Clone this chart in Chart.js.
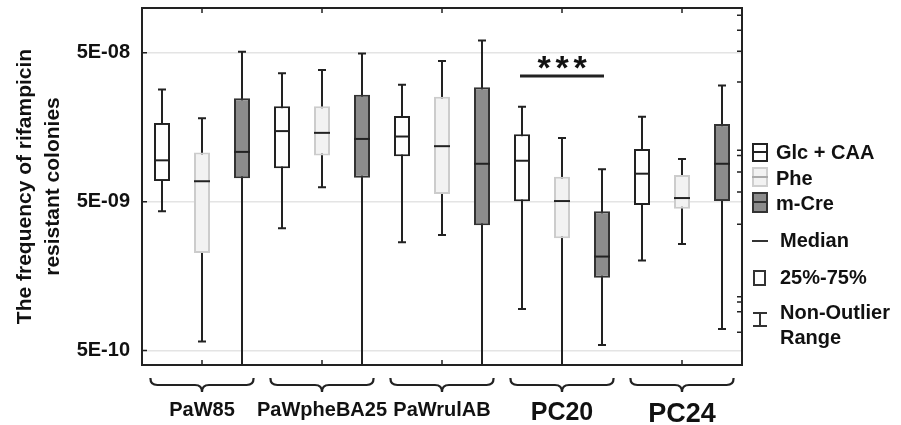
<!DOCTYPE html>
<html>
<head>
<meta charset="utf-8">
<script src="https://cdn.jsdelivr.net/npm/chart.js@4.4.1/dist/chart.umd.min.js"></script>
<style>
  html, body { margin: 0; padding: 0; background: #fff; }
  #wrap { position: relative; width: 901px; height: 425px; overflow: hidden; }
  #chart { position: absolute; left: 0; top: 0; }
  .lg { position: absolute; font: bold 20px "Liberation Sans", Arial, sans-serif; color: #111; line-height: 20px; white-space: nowrap; }
  .ic { position: absolute; box-sizing: border-box; }
</style>
</head>
<body>
<div id="wrap">
  <canvas id="chart" width="901" height="425"></canvas>

  <!-- legend -->
  <div class="ic" style="left:752px;top:143px;width:16px;height:19px;border:2px solid #222;background:#fff"></div>
  <div class="ic" style="left:752px;top:151px;width:16px;height:2px;background:#222"></div>
  <div class="lg" style="left:776px;top:142px">Glc + CAA</div>

  <div class="ic" style="left:752px;top:167px;width:16px;height:20px;border:2px solid #cfcfcf;background:#f2f2f2"></div>
  <div class="ic" style="left:752px;top:176px;width:16px;height:2px;background:#aaa"></div>
  <div class="lg" style="left:776px;top:168px">Phe</div>

  <div class="ic" style="left:752px;top:192px;width:16px;height:21px;border:2px solid #333;background:#8c8c8c"></div>
  <div class="ic" style="left:752px;top:201px;width:16px;height:2px;background:#333"></div>
  <div class="lg" style="left:776px;top:193px">m-Cre</div>

  <div class="ic" style="left:752px;top:240px;width:16px;height:2px;background:#333"></div>
  <div class="lg" style="left:780px;top:230px">Median</div>

  <div class="ic" style="left:753px;top:270px;width:13px;height:16px;border:2px solid #333;background:#fff"></div>
  <div class="lg" style="left:780px;top:267px">25%-75%</div>

  <div class="ic" style="left:753px;top:312px;width:14px;height:2px;background:#333"></div>
  <div class="ic" style="left:759px;top:312px;width:2px;height:15px;background:#333"></div>
  <div class="ic" style="left:753px;top:325px;width:14px;height:2px;background:#333"></div>
  <div class="lg" style="left:780px;top:302px">Non-Outlier</div>
  <div class="lg" style="left:780px;top:327px">Range</div>
</div>

<script>
// strains (groups) and media (series)
const groups = ["PaW85", "PaWpheBA25", "PaWrulAB", "PC20", "PC24"];
const media = ["Glc + CAA", "Phe", "m-Cre"];

// box plot statistics, one value per strain
const glcMin = [4.31e-9, 3.32e-9, 2.67e-9, 9.5e-10, 2.01e-9];
const glcQ1  = [6.88e-9, 8.38e-9, 1.01e-8, 5.03e-9, 4.75e-9];
const glcMed = [9.48e-9, 1.49e-8, 1.37e-8, 9.42e-9, 7.71e-9];
const glcQ3  = [1.69e-8, 2.19e-8, 1.88e-8, 1.42e-8, 1.13e-8];
const glcMax = [2.84e-8, 3.64e-8, 3.05e-8, 2.17e-8, 1.86e-8];

const pheMin = [5.75e-10, 6.24e-9, 2.99e-9, 3.0e-10, 2.60e-9];
const pheQ1  = [2.26e-9, 1.02e-8, 5.63e-9, 2.84e-9, 4.49e-9];
const pheMed = [6.86e-9, 1.45e-8, 1.18e-8, 5.05e-9, 5.29e-9];
const pheQ3  = [1.07e-8, 2.19e-8, 2.53e-8, 7.36e-9, 7.55e-9];
const pheMax = [1.82e-8, 3.83e-8, 4.40e-8, 1.34e-8, 9.67e-9];

const creMin = [3.0e-10, 3.0e-10, 3.0e-10, 5.46e-10, 6.99e-10];
const creQ1  = [7.18e-9, 7.25e-9, 3.47e-9, 1.54e-9, 5.05e-9];
const creMed = [1.08e-8, 1.32e-8, 8.99e-9, 2.14e-9, 8.99e-9];
const creQ3  = [2.48e-8, 2.61e-8, 2.93e-8, 4.31e-9, 1.66e-8];
const creMax = [5.08e-8, 4.95e-8, 6.06e-8, 8.25e-9, 3.02e-8];

// axis ticks
const yTicks = [5e-10, 5e-9, 5e-8];
const rightTicks = [8.95e-8, 7.09e-8, 5.13e-8, 3.18e-8, 1.11e-8, 1.02e-8, 7.9e-9,
                    5.81e-9, 3.53e-9, 1.15e-9, 1.06e-9, 9.1e-10, 6.65e-10];
const yTitle = ["The frequency of rifampicin", "resistant colonies"];

// significance mark over PC20
const sigGroup = 3;
const sigLevel = 3.5e-8;
const sigText = "***";

const FONT = '"Liberation Sans", Arial, sans-serif';
const INK = "#222";
const fills = ["#ffffff", "#f2f2f2", "#8c8c8c"];
const edges = ["#222222", "#cccccc", "#333333"];
const labelSizes = [20, 20, 20, 25, 27];

const stats = [
  { min: glcMin, q1: glcQ1, med: glcMed, q3: glcQ3, max: glcMax },
  { min: pheMin, q1: pheQ1, med: pheMed, q3: pheQ3, max: pheMax },
  { min: creMin, q1: creQ1, med: creMed, q3: creQ3, max: creMax },
];

function fmtExp(v) {
  const [m, e] = v.toExponential(0).split("e");
  const n = parseInt(e, 10);
  return m + "E" + (n < 0 ? "-" : "+") + String(Math.abs(n)).padStart(2, "0");
}

// no extra label padding, so the plot area sits where the layout says
function noPad(s) {
  s.paddingTop = 0;
  s.paddingBottom = 0;
  s.paddingLeft = 0;
  s.paddingRight = 0;
}

// whiskers behind the boxes, medians, ticks, frame, braces and stars on top
const boxPlotExtras = {
  id: "boxPlotExtras",
  beforeDatasetsDraw(chart) {
    const { ctx, chartArea: a, scales: { y } } = chart;
    ctx.save();
    ctx.beginPath();
    ctx.rect(a.left, a.top, a.right - a.left, a.bottom - a.top);
    ctx.clip();
    ctx.strokeStyle = INK;
    ctx.lineWidth = 2;
    stats.forEach((s, di) => {
      chart.getDatasetMeta(di).data.forEach((bar, i) => {
        const x = Math.round(bar.x);
        const top = y.getPixelForValue(s.max[i]);
        const bot = y.getPixelForValue(s.min[i]);
        ctx.beginPath();
        ctx.moveTo(x, top);
        ctx.lineTo(x, bot);
        ctx.moveTo(x - 4, top);
        ctx.lineTo(x + 4, top);
        ctx.moveTo(x - 4, bot);
        ctx.lineTo(x + 4, bot);
        ctx.stroke();
      });
    });
    ctx.restore();
  },
  afterDatasetsDraw(chart) {
    const { ctx, chartArea: a, scales: { x, y, y2 } } = chart;
    ctx.save();
    ctx.strokeStyle = INK;

    // medians
    ctx.lineWidth = 2;
    stats.forEach((s, di) => {
      chart.getDatasetMeta(di).data.forEach((bar, i) => {
        const py = y.getPixelForValue(s.med[i]);
        ctx.beginPath();
        ctx.moveTo(bar.x - bar.width / 2, py);
        ctx.lineTo(bar.x + bar.width / 2, py);
        ctx.stroke();
      });
    });

    // inward tick marks
    ctx.lineWidth = 1.5;
    ctx.beginPath();
    yTicks.forEach(v => {
      const py = y.getPixelForValue(v);
      ctx.moveTo(a.left, py);
      ctx.lineTo(a.left + 5, py);
    });
    rightTicks.forEach(v => {
      const py = y2.getPixelForValue(v);
      ctx.moveTo(a.right, py);
      ctx.lineTo(a.right - 5, py);
    });
    groups.forEach((g, i) => {
      const px = x.getPixelForTick(i);
      ctx.moveTo(px, a.top);
      ctx.lineTo(px, a.top + 5);
      ctx.moveTo(px, a.bottom);
      ctx.lineTo(px, a.bottom - 5);
    });
    ctx.stroke();

    // frame
    ctx.lineWidth = 2;
    ctx.strokeRect(a.left, a.top, a.right - a.left, a.bottom - a.top);

    // braces under each strain
    const step = x.getPixelForTick(1) - x.getPixelForTick(0);
    const half = step * 0.43;
    const by = a.bottom + 13, r = 7;
    ctx.lineWidth = 2.2;
    groups.forEach((g, i) => {
      const xc = x.getPixelForTick(i), x0 = xc - half, x1 = xc + half;
      ctx.beginPath();
      ctx.moveTo(x0, by);
      ctx.quadraticCurveTo(x0, by + r, x0 + r, by + r);
      ctx.lineTo(xc - r, by + r);
      ctx.quadraticCurveTo(xc, by + r, xc, by + 2 * r);
      ctx.quadraticCurveTo(xc, by + r, xc + r, by + r);
      ctx.lineTo(x1 - r, by + r);
      ctx.quadraticCurveTo(x1, by + r, x1, by);
      ctx.stroke();
    });

    // significance bar and stars
    const sx = x.getPixelForTick(sigGroup);
    const sy = y.getPixelForValue(sigLevel);
    ctx.lineWidth = 3;
    ctx.beginPath();
    ctx.moveTo(sx - 42, sy);
    ctx.lineTo(sx + 42, sy);
    ctx.stroke();
    ctx.fillStyle = "#111";
    ctx.font = "bold 34px " + FONT;
    ctx.textAlign = "center";
    ctx.textBaseline = "alphabetic";
    [...sigText].forEach((c, k) => ctx.fillText(c, sx + (k - 1) * 18, sy + 3));
    ctx.restore();
  }
};

new Chart(document.getElementById("chart"), {
  type: "bar",
  data: {
    labels: groups,
    datasets: stats.map((s, di) => ({
      label: media[di],
      data: s.q1.map((q, i) => [q, s.q3[i]]),
      backgroundColor: fills[di],
      borderColor: edges[di],
      borderWidth: 2,
      borderSkipped: false,
      barPercentage: 0.4,
      categoryPercentage: 1.0,
    })),
  },
  options: {
    responsive: false,
    devicePixelRatio: 1,
    animation: false,
    events: [],
    layout: { padding: { top: 8, left: 0, right: 0, bottom: 0 } },
    plugins: { legend: { display: false }, tooltip: { enabled: false } },
    scales: {
      x: {
        offset: true,
        grid: { display: false, drawTicks: false },
        border: { display: false },
        ticks: {
          autoSkip: false,
          maxRotation: 0,
          padding: 33,
          color: "#111",
          font: ctx => ({ family: FONT, weight: "bold", size: labelSizes[ctx.index] || 20 }),
        },
        afterFit: s => { s.height = 60; noPad(s); },
      },
      y: {
        type: "logarithmic",
        min: 4e-10,
        max: 1e-7,
        afterBuildTicks: s => { s.ticks = yTicks.map(v => ({ value: v })); },
        ticks: {
          padding: 12,
          color: "#111",
          font: { family: FONT, weight: "bold", size: 20 },
          callback: v => fmtExp(v),
        },
        grid: { color: "#e4e4e4", lineWidth: 1.5, drawTicks: false },
        border: { display: false },
        title: {
          display: true,
          text: yTitle,
          color: "#111",
          font: { family: FONT, weight: "bold", size: 21, lineHeight: 1.3 },
          padding: { top: 12, bottom: 0 },
        },
        afterFit: s => { s.width = 142; noPad(s); },
      },
      y2: {
        type: "logarithmic",
        position: "right",
        min: 4e-10,
        max: 1e-7,
        afterBuildTicks: s => { s.ticks = rightTicks.map(v => ({ value: v })); },
        ticks: { display: false },
        grid: { drawOnChartArea: false, drawTicks: false },
        border: { display: false },
        afterFit: s => { s.width = 159; noPad(s); },
      },
    },
  },
  plugins: [boxPlotExtras],
});
</script>
</body>
</html>
